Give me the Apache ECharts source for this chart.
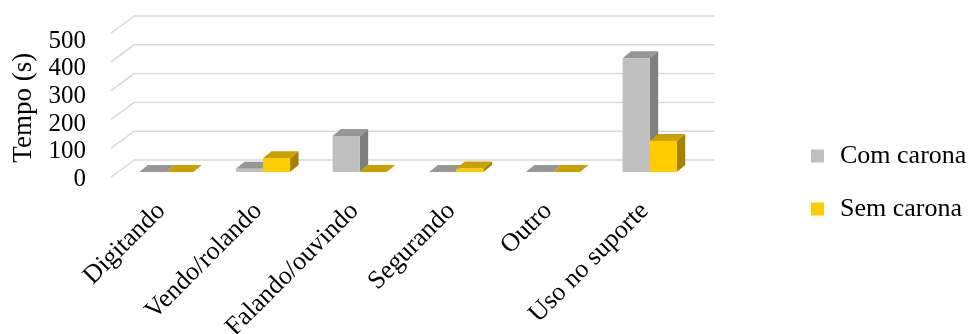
<!DOCTYPE html>
<html>
<head>
<meta charset="utf-8">
<title>Tempo (s)</title>
<script src="https://cdn.jsdelivr.net/npm/echarts@6/dist/echarts.min.js"></script>
<style>
  html, body { margin: 0; padding: 0; background: #fff; }
  #chart { width: 970px; height: 334px; }
</style>
</head>
<body>
<div id="chart"></div>
<script>
// Categories and series values (seconds)
const categories = ['Digitando', 'Vendo/rolando', 'Falando/ouvindo', 'Segurando', 'Outro', 'Uso no suporte'];
const comCarona = [0, 11, 125, 0, 0, 395];
const semCarona = [0, 48, 0, 12, 0, 108];
const yTicks = [0, 100, 200, 300, 400, 500];

const FONT = '"Liberation Serif", "Times New Roman", serif';

// Oblique 3D offsets (pixels) relative to the bar front plane
const WALL_DX = 16.2, WALL_DY = -12;   // back wall
const EDGE_DX = -6.8, EDGE_DY = 5;     // front floor edge

const chart = echarts.init(document.getElementById('chart'), null, { renderer: 'canvas' });

function bar3d(side, front, topC, sideC) {
  return function (params, api) {
    const idx = api.value(0), v = api.value(1);
    const top = api.coord([idx, v]);
    const base = api.coord([idx, 0]);
    const band = api.size([1, 0])[0];
    const w = band * 0.28;
    const dx = band * 0.088, dy = -band * 0.0725;
    const x0 = side === 'left' ? base[0] - w : base[0];
    const x1 = x0 + w;
    const yt = top[1], yb = base[1];
    return {
      type: 'group',
      children: [
        { type: 'polygon', shape: { points: [[x1, yt], [x1 + dx, yt + dy], [x1 + dx, yb + dy], [x1, yb]] },
          style: { fill: sideC } },
        { type: 'polygon', shape: { points: [[x0, yt], [x1, yt], [x1 + dx, yt + dy], [x0 + dx, yt + dy]] },
          style: { fill: topC } },
        { type: 'rect', shape: { x: x0, y: yt, width: w, height: Math.max(0, yb - yt) },
          style: { fill: front } }
      ]
    };
  };
}

const option = {
  animation: false,
  backgroundColor: '#ffffff',
  grid: [
    // bar front plane
    { left: 118, right: 272, top: 28, bottom: 162, outerBoundsMode: 'none', containLabel: false },
    // front edge plane, carries the axis labels
    { left: 113, right: 277, top: 41, bottom: 154.5, outerBoundsMode: 'none', containLabel: false }
  ],
  xAxis: [
    { type: 'category', gridIndex: 0, data: categories,
      axisLine: { show: false }, axisTick: { show: false }, axisLabel: { show: false }, splitLine: { show: false } },
    { type: 'category', gridIndex: 1, data: categories,
      axisLine: { show: false }, axisTick: { show: false }, splitLine: { show: false },
      axisLabel: { show: true, rotate: 45, margin: 27.5, interval: 0, hideOverlap: false,
        fontFamily: FONT, fontSize: 26, color: '#000' } }
  ],
  yAxis: [
    { type: 'value', gridIndex: 0, min: 0, max: 500, interval: 100,
      axisLine: { show: false }, axisTick: { show: false }, axisLabel: { show: false }, splitLine: { show: false } },
    { type: 'value', gridIndex: 1, min: 0, max: 500, interval: 100,
      axisLine: { show: false }, axisTick: { show: false }, splitLine: { show: false },
      axisLabel: { show: true, margin: 27, fontFamily: FONT, fontSize: 25, color: '#000' },
      name: 'Tempo (s)', nameLocation: 'middle', nameGap: 76, nameRotate: 90,
      nameTextStyle: { fontFamily: FONT, fontSize: 27, color: '#000', padding: [0, 0, 0, 5] } }
  ],
  legend: {
    orient: 'vertical', left: 806, top: 136,
    data: ['Com carona', 'Sem carona'],
    icon: 'rect', itemWidth: 13, itemHeight: 13, itemGap: 23,
    selectedMode: false,
    textStyle: { fontFamily: FONT, fontSize: 26, color: '#000', lineHeight: 30, padding: [0, 0, 0, 11] }
  },
  series: [
    {
      type: 'custom', name: 'grid-wall', xAxisIndex: 0, yAxisIndex: 0, silent: true, clip: false, z: 1,
      data: yTicks.map(v => [0, v]),
      encode: { x: 0, y: 1 },
      renderItem: function (params, api) {
        const cs = params.coordSys;
        const y = api.coord([0, api.value(1)])[1];
        const left = cs.x, right = cs.x + cs.width;
        return {
          type: 'polyline',
          shape: { points: [[left + EDGE_DX, y + EDGE_DY], [left + WALL_DX, y + WALL_DY], [right + WALL_DX, y + WALL_DY]] },
          style: { stroke: '#D9D9D9', lineWidth: 1.5, fill: null }
        };
      }
    },
    {
      type: 'custom', name: 'Com carona', xAxisIndex: 0, yAxisIndex: 0, clip: false, z: 2,
      itemStyle: { color: '#BFBFBF' },
      data: comCarona.map((v, i) => [i, v]),
      encode: { x: 0, y: 1 },
      renderItem: bar3d('left', '#BFBFBF', '#969696', '#7F7F7F')
    },
    {
      type: 'custom', name: 'Sem carona', xAxisIndex: 0, yAxisIndex: 0, clip: false, z: 3,
      itemStyle: { color: '#FFCC00' },
      data: semCarona.map((v, i) => [i, v]),
      encode: { x: 0, y: 1 },
      renderItem: bar3d('right', '#FFCC00', '#C9A000', '#A38300')
    }
  ]
};

chart.setOption(option);
</script>
</body>
</html>
